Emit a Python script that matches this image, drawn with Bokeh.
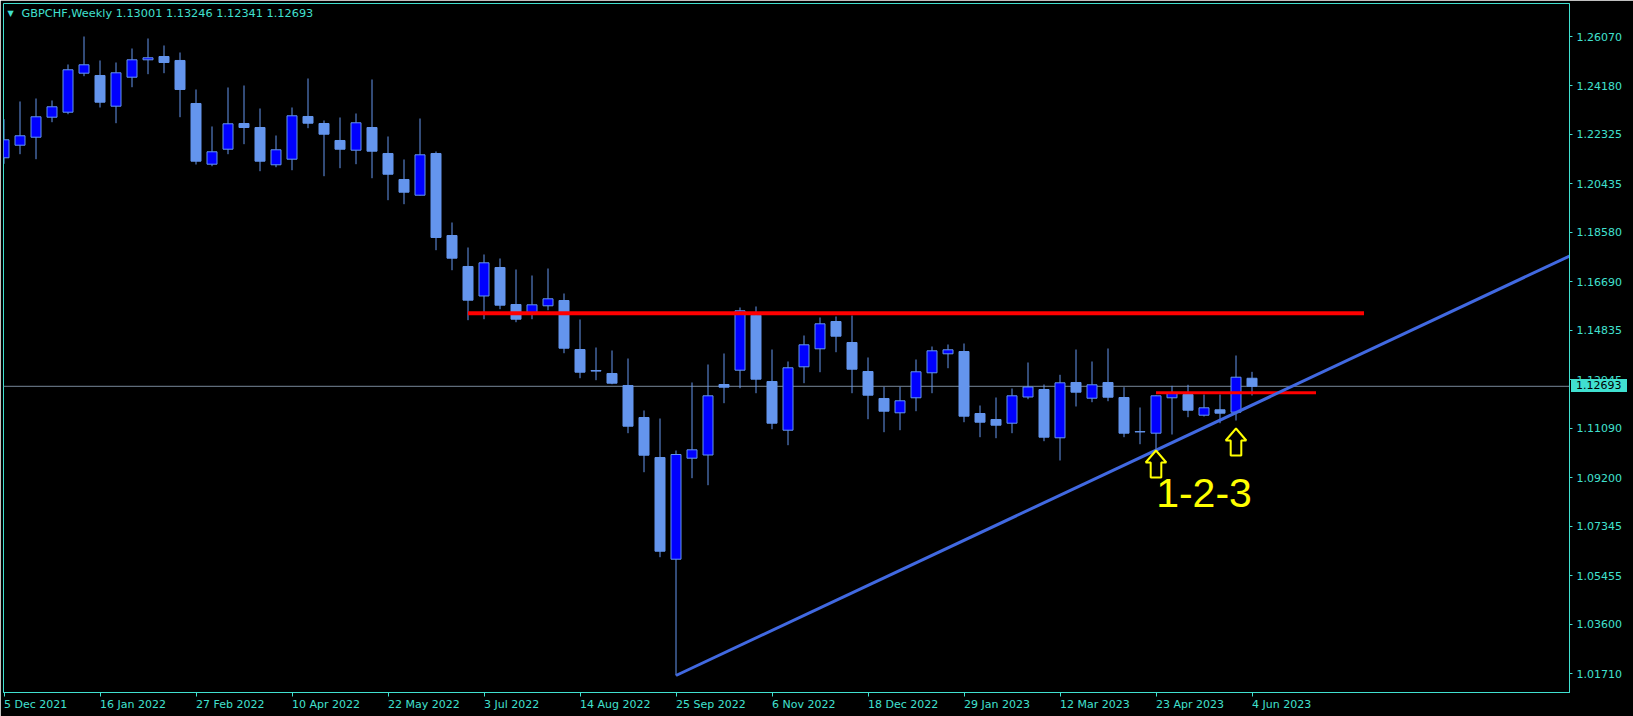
from bokeh.plotting import figure
from bokeh.models import Range1d, FixedTicker, NumeralTickFormatter, Label, Span, ColumnDataSource, Div
from bokeh.layouts import column
from bokeh.embed import file_html
from bokeh.resources import INLINE

# ---------------- data ----------------
tick_bars = [0, 6, 12, 18, 24, 30, 36, 42, 48, 54, 60, 66, 72, 78]
tick_labels = ["5 Dec 2021", "16 Jan 2022", "27 Feb 2022", "10 Apr 2022", "22 May 2022",
               "3 Jul 2022", "14 Aug 2022", "25 Sep 2022", "6 Nov 2022", "18 Dec 2022",
               "29 Jan 2023", "12 Mar 2023", "23 Apr 2023", "4 Jun 2023"]
price_ticks = [1.01710, 1.03600, 1.05455, 1.07345, 1.09200, 1.11090, 1.12945,
               1.14835, 1.16690, 1.18580, 1.20435, 1.22325, 1.24180, 1.26070]

opens = [1.21432, 1.21913, 1.22219, 1.22984, 1.23175, 1.24667, 1.24579, 1.23405, 1.24514, 1.25179,
         1.25305, 1.25153, 1.23508, 1.21187, 1.21760, 1.22743, 1.22590, 1.21164, 1.21378, 1.23011,
         1.22743, 1.22093, 1.21722, 1.22590, 1.21596, 1.20602, 1.20001, 1.21596, 1.18460, 1.17275,
         1.16147, 1.17236, 1.15821, 1.15466, 1.15772, 1.15974, 1.14100, 1.13298, 1.13183, 1.12724,
         1.11500, 1.09970, 1.06081, 1.09944, 1.10066, 1.12762, 1.13309, 1.15412, 1.12877, 1.11014,
         1.13439, 1.14127, 1.15171, 1.14368, 1.13259, 1.12227, 1.11680, 1.12254, 1.13210, 1.13936,
         1.14024, 1.11653, 1.11424, 1.11282, 1.12284, 1.12571, 1.10724, 1.12839, 1.12238, 1.12839,
         1.12265, 1.10960, 1.10900, 1.12254, 1.12380, 1.11588, 1.11795, 1.11703, 1.13001]
highs = [1.22908, 1.23585, 1.23699, 1.23623, 1.25000, 1.26070, 1.25153, 1.25076, 1.25611, 1.25994,
         1.25726, 1.25458, 1.24044, 1.22629, 1.24120, 1.24196, 1.23317, 1.22284, 1.23355, 1.24464,
         1.22858, 1.22973, 1.23126, 1.24426, 1.22246, 1.21367, 1.22934, 1.21673, 1.18957, 1.18001,
         1.17734, 1.17581, 1.17160, 1.16930, 1.17198, 1.16242, 1.15248, 1.14177, 1.14062, 1.13756,
         1.11768, 1.11462, 1.10238, 1.12839, 1.13527, 1.13948, 1.15707, 1.15745, 1.14100, 1.13642,
         1.14636, 1.15324, 1.15363, 1.15401, 1.13795, 1.12674, 1.12674, 1.13718, 1.14215, 1.14292,
         1.14330, 1.11959, 1.12265, 1.12609, 1.13603, 1.12762, 1.13133, 1.14100, 1.13642, 1.14139,
         1.12659, 1.11883, 1.12350, 1.12712, 1.12751, 1.12380, 1.12380, 1.13871, 1.13246]
lows = [1.21202, 1.21569, 1.21378, 1.22793, 1.23099, 1.24552, 1.23355, 1.22755, 1.24131, 1.24629,
        1.24667, 1.22984, 1.21175, 1.21110, 1.21569, 1.21952, 1.20919, 1.21072, 1.20957, 1.22564,
        1.20728, 1.21034, 1.21187, 1.20651, 1.19810, 1.19657, 1.19990, 1.17898, 1.17133, 1.15221,
        1.15259, 1.15642, 1.15145, 1.15259, 1.15603, 1.13959, 1.13003, 1.12926, 1.12774, 1.10900,
        1.09408, 1.06158, 1.01634, 1.09179, 1.08911, 1.12047, 1.12621, 1.12429, 1.11053, 1.10441,
        1.12812, 1.13232, 1.13997, 1.12429, 1.11435, 1.10938, 1.11014, 1.11741, 1.12429, 1.13385,
        1.11320, 1.10747, 1.10709, 1.10900, 1.12200, 1.10594, 1.09856, 1.11921, 1.12085, 1.12123,
        1.10747, 1.10479, 1.10265, 1.10850, 1.11512, 1.11538, 1.11282, 1.11385, 1.12341]
closes = [1.22120, 1.22273, 1.23000, 1.23382, 1.24797, 1.24988, 1.23558, 1.24682, 1.25179, 1.25256,
          1.25076, 1.24044, 1.21302, 1.21661, 1.22732, 1.22590, 1.21302, 1.21738, 1.23038, 1.22755,
          1.22334, 1.21760, 1.22770, 1.21684, 1.20804, 1.20116, 1.21546, 1.18384, 1.17592, 1.15986,
          1.17416, 1.15795, 1.15259, 1.15810, 1.16039, 1.14150, 1.13232, 1.13275, 1.12812, 1.11167,
          1.10058, 1.06387, 1.10085, 1.10265, 1.12330, 1.12659, 1.15581, 1.12965, 1.11282, 1.13401,
          1.14280, 1.15083, 1.14609, 1.13347, 1.12353, 1.11741, 1.12139, 1.13248, 1.14051, 1.14089,
          1.11550, 1.11320, 1.11206, 1.12330, 1.12667, 1.10747, 1.12827, 1.12468, 1.12751, 1.12276,
          1.10900, 1.10950, 1.12330, 1.12429, 1.11779, 1.11871, 1.11665, 1.13041, 1.12693]

# drawn objects
resistance_bars = [29, 85]
resistance_level = 1.15489
neckline_bars = [72, 82]
neckline_level = 1.12444
trend_bars = [42, 72]
trend_prices = [1.01634, 1.10250]
arrow_bars = [72, 77]
arrow_prices = [1.10238, 1.11079]
pattern_text = "1-2-3"
pattern_bar = 75
pattern_price = 1.08613
last_price = 1.12693
header_text = "GBPCHF,Weekly  1.13001 1.13246 1.12341 1.12693"

# ---------------- styling ----------------
TURQ = "#40E0D0"
BULL_FILL = "#0000FF"
CANDLE = "#6495ED"
FONT = "DejaVu Sans"

FW, FH = 1566, 689
BL, BT = 3, 3
x0, x1 = -0.03125, 97.84375
y0, y1 = 1.00984, 1.27332

p = figure(frame_width=FW, frame_height=FH, x_range=Range1d(x0, x1), y_range=Range1d(y0, y1),
           output_backend="svg", toolbar_location=None, y_axis_location="right",
           min_border_left=BL, min_border_top=BT, min_border_right=64, min_border_bottom=24,
           background_fill_color="black", border_fill_color="black",
           outline_line_color=TURQ, outline_line_width=1)
p.grid.visible = False

for ax in (p.xaxis[0], p.yaxis[0]):
    ax.axis_line_color = TURQ
    ax.major_tick_line_color = TURQ
    ax.minor_tick_line_color = None
    ax.major_label_text_color = TURQ
    ax.major_label_text_font = FONT
    ax.major_label_text_font_size = "11px"
    ax.major_tick_in = 0

p.xaxis.ticker = FixedTicker(ticks=tick_bars)
p.xaxis.major_label_overrides = {b: l for b, l in zip(tick_bars, tick_labels)}
p.xaxis.major_label_orientation = -0.0001
p.xaxis.major_tick_out = 4
p.xaxis.major_label_standoff = 8

p.yaxis.ticker = FixedTicker(ticks=price_ticks)
p.yaxis.formatter = NumeralTickFormatter(format="0.00000")
p.yaxis.major_tick_out = 3
p.yaxis.major_label_standoff = 4

# current price line (behind candles)
p.add_layout(Span(location=last_price, dimension="width", line_color="#778899", line_width=1, level="underlay"))

# candles
idx = list(range(len(opens)))
bull = [c >= o for o, c in zip(opens, closes)]
src = ColumnDataSource(dict(
    x=idx, high=highs, low=lows,
    top=[max(o, c) for o, c in zip(opens, closes)],
    bottom=[min(o, c) for o, c in zip(opens, closes)],
    fill=[BULL_FILL if b else CANDLE for b in bull],
))
p.segment(x0="x", y0="low", x1="x", y1="high", source=src, line_color=CANDLE, line_width=1)
p.vbar(x="x", top="top", bottom="bottom", width=0.625, source=src,
       fill_color="fill", line_color=CANDLE, line_width=1)

# resistance / neckline
p.line(resistance_bars, [resistance_level] * 2, line_color="#FF0000", line_width=4)
p.line(neckline_bars, [neckline_level] * 2, line_color="#FF0000", line_width=3)

# trend line ray
slope = (trend_prices[1] - trend_prices[0]) / (trend_bars[1] - trend_bars[0])
p.line([trend_bars[0], x1], [trend_prices[0], trend_prices[0] + slope * (x1 - trend_bars[0])],
       line_color="#4169E1", line_width=3)

# arrows (shape in pixels converted to data units)
dxu = (x1 - x0) / FW
dyu = (y1 - y0) / FH
shape = [(0, 0), (10.3, 12), (5.3, 12), (5.3, 27), (-5.3, 27), (-5.3, 12), (-10.3, 12)]
axs = [[b + sx * dxu for sx, sy in shape] for b in arrow_bars]
ays = [[pr - sy * dyu for sx, sy in shape] for pr in arrow_prices]
p.patches(axs, ays, fill_color=None, line_color="#FFFF00", line_width=2)

p.add_layout(Label(x=pattern_bar, y=pattern_price, text=pattern_text, text_color="#FFFF00",
                   text_font="Liberation Sans", text_font_size="41px",
                   text_align="center", text_baseline="middle"))

# header
p.add_layout(Label(x=4, y=FH - 9.5, x_units="screen", y_units="screen", text="\u25BC",
                   text_color=TURQ, text_font=FONT, text_font_size="8px", text_baseline="middle"))
p.add_layout(Label(x=18, y=FH - 9.5, x_units="screen", y_units="screen", text=header_text,
                   text_color=TURQ, text_font=FONT, text_font_size="11.3px", text_baseline="middle"))

# price tag on the price axis (positioned from the same scale as the plot)
tag_left = BL + FW + 2
tag_center = BT + (y1 - last_price) / dyu
tag = Div(text=f"{last_price:.5f}", margin=0,
          styles={"position": "absolute", "left": f"{tag_left}px", "top": f"{tag_center - 6.5:.1f}px",
                  "background-color": TURQ, "color": "black", "font-family": FONT,
                  "font-size": "11px", "line-height": "13px", "height": "13px",
                  "padding": "0px 5px 0px 5px", "z-index": "10", "white-space": "nowrap"})

layout = column(p, tag, spacing=0)
open("out.html", "w").write(file_html(layout, INLINE))
